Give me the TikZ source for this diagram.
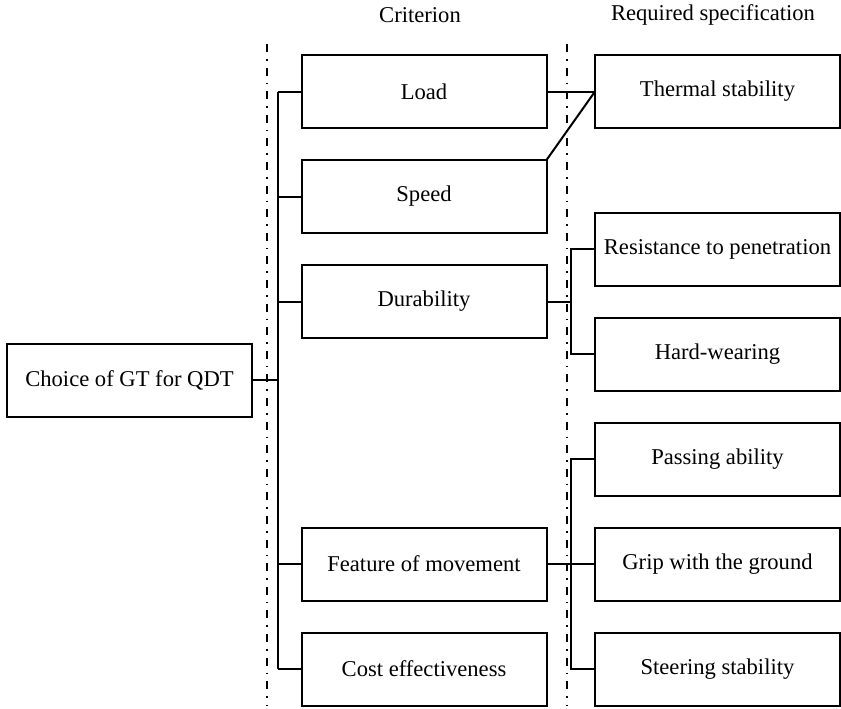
\documentclass[tikz,border=0pt]{standalone}
\usepackage{fontspec}
\setmainfont{Liberation Serif}
\usetikzlibrary{positioning}

\begin{document}
\begin{tikzpicture}[x=0.5pt,y=-0.5pt,line width=1pt,node distance=16pt,main node/.style={rectangle,draw,line width=1pt,outer sep=0pt,minimum width=122.5pt,minimum height=36.5pt,inner sep=0pt,font=\fontsize{11.3}{13}\selectfont},head/.style={font=\fontsize{11.3}{13}\selectfont},guide/.style={line width=1pt,dash pattern=on 4pt off 3.5pt on 0.8pt off 3.5pt}]

        \useasboundingbox (0,0) rectangle (841,708);

        \node[head] (crit) at (420,15) {Criterion};
        \node[head] (spec) at (713,15) {Required specification};

        \node[main node] (choice) at (129.5,380) {Choice of GT for QDT};

        \node[main node] (load) at (424,91.5) {Load};
        \node[main node] (speed) [below=of load] {Speed};
        \node[main node] (dur) [below=of speed] {Durability};
        \node[main node] (feat) [below=94.75pt of dur] {Feature of movement};
        \node[main node] (cost) [below=of feat] {Cost effectiveness};

        \node[main node] (thermal) at (717.5,91.5) {Thermal stability};
        \node[main node] (resist) [below=42.25pt of thermal] {Resistance to penetration};
        \node[main node] (hard) [below=of resist] {Hard-wearing};
        \node[main node] (pass) [below=of hard] {Passing ability};
        \node[main node] (grip) [below=of pass] {Grip with the ground};
        \node[main node] (steer) [below=of grip] {Steering stability};

        \draw[guide] (267,44) -- (267,706);
        \draw[guide] (567,44) -- (567,706);

        \coordinate (bt) at ([xshift=-12pt]load.west);
        \coordinate (bb) at ([xshift=-12pt]cost.west);
        \draw (bt) -- (bb);
        \foreach \n in {load,speed,dur,feat,cost}
            \draw (\n.west) -- (\n.west -| bt);
        \draw (choice.east) -- (choice.east -| bt);

        \coordinate (db) at ([xshift=12pt]dur.east);
        \draw (dur.east) -- (db);
        \draw (resist.west) -| (db) |- (hard.west);

        \coordinate (fb) at ([xshift=12pt]feat.east);
        \draw (feat.east) -- (grip.west);
        \draw (pass.west) -| (fb) |- (steer.west);

        \draw (load.east) -- (thermal.west);
        \draw (speed.north east) -- (thermal.west);
    \end{tikzpicture}
\end{document}
